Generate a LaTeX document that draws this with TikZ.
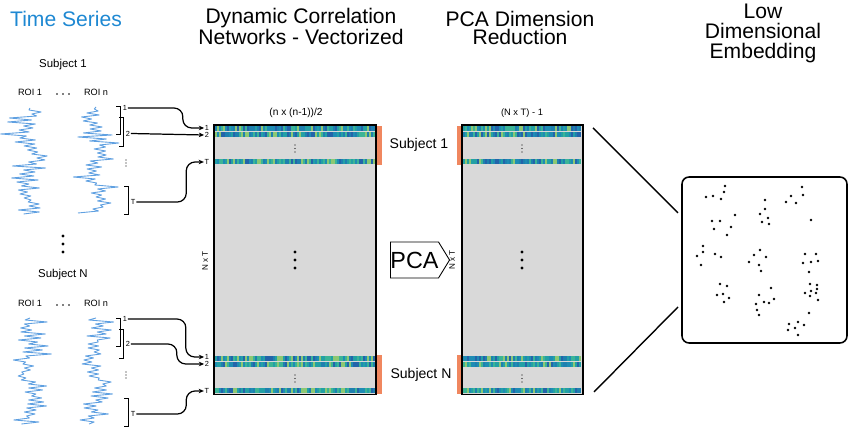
\documentclass[tikz,border=0pt]{standalone}
\usepackage{fontspec}
\setmainfont{Liberation Sans}
\usepackage{xcolor}
\usetikzlibrary{arrows.meta, positioning, shapes.symbols}
\definecolor{timeblue}{RGB}{30,136,210}
\definecolor{wavecol}{RGB}{95,160,225}
\definecolor{matgray}{RGB}{217,217,217}
\definecolor{subjorange}{RGB}{240,135,95}
\definecolor{vc0}{RGB}{35,100,170}
\definecolor{vc1}{RGB}{30,140,180}
\definecolor{vc2}{RGB}{35,160,165}
\definecolor{vc3}{RGB}{60,180,150}
\definecolor{vc4}{RGB}{140,200,115}
\definecolor{vc5}{RGB}{30,128,175}
\tikzset{
        title/.style={font=\fontsize{12}{10.6}\selectfont, align=center, inner sep=0pt},
        subjlabel/.style={font=\fontsize{6.5}{7}\selectfont, inner sep=0pt},
        roilabel/.style={font=\fontsize{5.2}{6}\selectfont, inner sep=0pt},
        winlabel/.style={font=\fontsize{4.2}{4.2}\selectfont, inner sep=0.3pt},
        dimlabel/.style={font=\fontsize{5.8}{6}\selectfont, inner sep=0pt},
        matlabel/.style={font=\fontsize{8}{9}\selectfont, inner sep=0pt},
        sidelabel/.style={font=\fontsize{4.6}{5}\selectfont, inner sep=0pt, rotate=90},
        matbox/.style={draw, line width=0.6pt, fill=matgray, minimum height=5.4cm, inner sep=0pt},
        subjbar/.style={fill=subjorange},
        wave/.style={draw=wavecol, line width=0.5pt, line join=round},
        winbracket/.style={line width=0.55pt},
        arrow/.style={-{Stealth[length=3pt, width=2.6pt]}, line width=0.7pt, rounded corners=5pt},
        zoomline/.style={line width=0.8pt},
        embedbox/.style={draw, line width=0.9pt, rounded corners=4pt, minimum width=3.3cm, minimum height=3.32cm},
        pcaarrow/.style={signal, signal to=east, signal pointer angle=117, draw, line width=0.5pt,
            minimum width=1.14cm, minimum height=0.72cm, inner sep=0pt, font=\fontsize{13.3}{14}\selectfont},
    }
\begin{document}
\begin{tikzpicture}[x=0.02cm, y=-0.02cm]
        \useasboundingbox (0,0) rectangle (850,431);

        % === TITLES ===
        \node[title, text=timeblue, anchor=base] (tstitle) at (66,27) {Time Series};
        \node[title, anchor=base] (dcntitle) at (301,45) {Dynamic Correlation\\Networks - Vectorized};
        \node[title, anchor=base] (pcatitle) at (520,45) {PCA Dimension\\Reduction};
        \node[title, font=\fontsize{12}{11.6}\selectfont, anchor=base] (lowtitle) at (763,59) {Low\\Dimensional\\Embedding};

        % === TIME SERIES ===
        \node[subjlabel, anchor=base] (subj1) at (63,68) {Subject 1};
        \node[roilabel, anchor=base] (roi1a) at (30,96) {ROI 1};
        \node[roilabel, anchor=base] (roina) at (96,96) {ROI n};
        \node[subjlabel, anchor=base] (subjn) at (63,278) {Subject N};
        \node[roilabel, anchor=base] (roi1b) at (30,307) {ROI 1};
        \node[roilabel, anchor=base] (roinb) at (96,307) {ROI n};
        \foreach \yy in {94,305} \foreach \xx in {57,63,69} \fill (\xx,\yy) circle (0.45pt);
        \foreach \yy in {236,244,252} \fill (63,\yy) circle (0.9pt);

        \foreach \cx/\top/\seed in {30/108/3, 96/107/5, 30/318/7, 96/318/9}{
            \pgfmathsetseed{\seed}
            \draw[wave] (\cx,\top) \foreach \k in {1,...,53}{
                -- ({\cx+6*sin(\k*13+\seed*40)+4*sin(\k*47)+ifthenelse(mod(\k,2)==0,1,-1)*(1+6*rnd+16*rnd^5)}, {\top+2*\k}) };
        }

        % sliding windows
        \foreach \dy in {0,212}{
            \draw[winbracket] (116,106+\dy) -- (120,106+\dy) -- (120,134+\dy) -- (116,134+\dy);
            \draw[winbracket] (119,117+\dy) -- (123,117+\dy) -- (123,146+\dy) -- (119,146+\dy);
            \draw[winbracket] (124,186+\dy) -- (128,186+\dy) -- (128,214+\dy) -- (124,214+\dy);
            \foreach \yy in {160,163,166} \fill (126,\yy+\dy) circle (0.3pt);
        }
        \node[winlabel, anchor=west] (s1one) at (122,108) {1};
        \node[winlabel, anchor=west] (s1two) at (125,133.5) {2};
        \node[winlabel, anchor=west] (s1t) at (130,202) {T};
        \node[winlabel, anchor=west] (snone) at (122,319) {1};
        \node[winlabel, anchor=west] (sntwo) at (125,344) {2};
        \node[winlabel, anchor=west] (snt) at (130,414) {T};

        % === DYNAMIC CORRELATION MATRIX ===
        \node[matbox, minimum width=3.24cm] (dcnmat) at (295,260) {};
        \node[dimlabel, anchor=base] (dcndim) at (296,116) {(n x (n-1))/2};
        \node[sidelabel] (dcnside) at (205,261) {N x T};
        \node[winlabel] (m1one) at (207,128) {1};
        \node[winlabel] (m1two) at (207,135) {2};
        \node[winlabel] (m1t) at (207,162) {T};
        \node[winlabel] (mnone) at (207,357) {1};
        \node[winlabel] (mntwo) at (207,364) {2};
        \node[winlabel] (mnt) at (207,391) {T};

        \draw[arrow] (s1one.east) -- ++(55,0) |- (m1one.west);
        \draw[arrow] (s1two.east) -- (m1two.west);
        \draw[arrow] (s1t.east) -- ++(50,0) |- (m1t.west);
        \draw[arrow] (snone.east) -- ++(58,0) |- (mnone.west);
        \draw[arrow] (sntwo.east) -- ++(46,0) |- (mntwo.west);
        \draw[arrow] (snt.east) -- ++(50,0) |- (mnt.west);

        % === PCA MATRIX ===
        \node[matbox, minimum width=2.42cm] (pcamat) at (522.5,260) {};
        \node[dimlabel, font=\fontsize{5.3}{6}\selectfont, anchor=base] (pcadim) at (522,116) {(N x T) - 1};
        \node[sidelabel] (pcaside) at (452,260) {N x T};
        \node[pcaarrow] (pca) at (414.5,260) {PCA};

        % colour bands
        \foreach \yy in {126,132,159,356,362,388}{
            \foreach \xx in {215,217,...,373}{
                \pgfmathtruncatemacro\ci{6*rnd}
                \fill[vc\ci] (\xx,\yy) rectangle ++(2,5);
            }
            \foreach \xx in {463,465,...,580}{
                \pgfmathtruncatemacro\ci{6*rnd}
                \fill[vc\ci] (\xx,\yy) rectangle ++(2,5);
            }
        }
        \foreach \mx in {295,522}{
            \foreach \yy in {145,148.5,152,375,378.5,382} \fill (\mx,\yy) circle (0.35pt);
            \foreach \yy in {252,260,268} \fill (\mx,\yy) circle (0.9pt);
        }

        % subject bars
        \fill[subjbar] (377,126) rectangle (382,165);
        \fill[subjbar] (377,355) rectangle (382,394);
        \fill[subjbar] (457,126) rectangle (461,165);
        \fill[subjbar] (457,355) rectangle (461,394);
        \node[matlabel, anchor=base] (subj1mat) at (419,149) {Subject 1};
        \node[matlabel, anchor=base] (subjnmat) at (421,379) {Subject N};

        % === LOW DIMENSIONAL EMBEDDING ===
        \node[embedbox] (embed) at (764.5,260) {};
        \coordinate (zoomfroma) at (593,128);
        \coordinate (zoomtoa) at (678,213);
        \coordinate (zoomfromb) at (594,392);
        \coordinate (zoomtob) at (678,307);
        \draw[zoomline] (zoomfroma) -- (zoomtoa);
        \draw[zoomline] (zoomfromb) -- (zoomtob);

        \foreach \px/\py in {725/186, 724/192, 713/196, 706/197, 721/199, 802/187, 803/195, 791/196, 786/202, 796/203,
            765/200, 765/209, 760/214, 768/218, 762/222, 769/224, 735/215, 712/221, 720/221, 714/229, 731/227, 727/235, 811/220,
            703/246, 703/252, 697/256, 701/265, 715/254, 721/257,
            760/250, 754/255, 766/257, 749/262, 759/265, 761/271,
            805/254, 816/254, 811/262, 818/261, 803/263, 809/272,
            720/284, 727/286, 723/294, 717/295, 729/298, 724/302,
            771/288, 759/295, 774/299, 764/302, 769/303, 756/304, 757/310, 759/315,
            810/284, 817/285, 811/291, 817/289, 805/293, 810/296, 816/293, 818/300, 809/313,
            798/322, 789/324, 804/325, 795/328, 788/330, 798/335}
            \fill (\px,\py) circle (0.75pt);

    \end{tikzpicture}
\end{document}
